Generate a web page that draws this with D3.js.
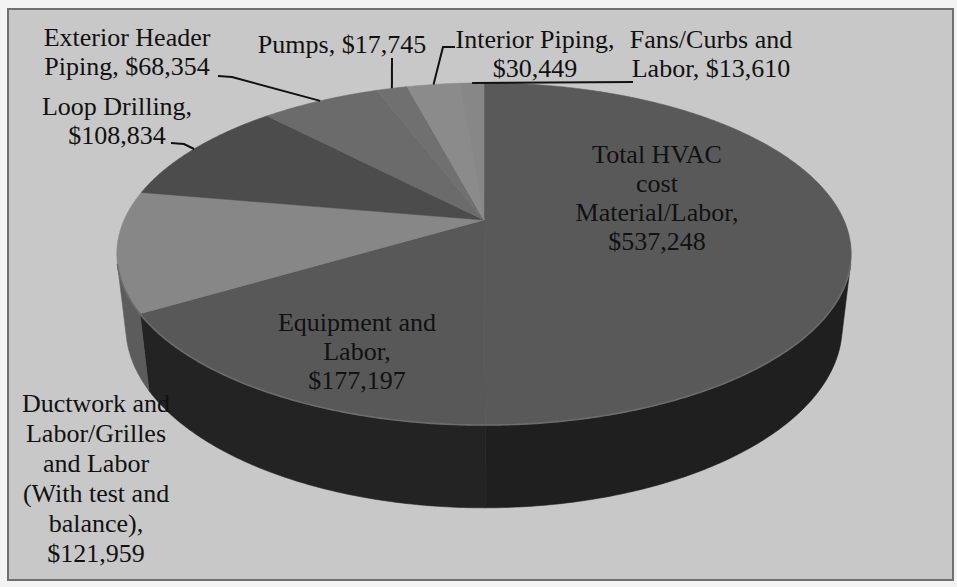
<!DOCTYPE html>
<html>
<head>
<meta charset="utf-8">
<script src="https://cdn.jsdelivr.net/npm/d3@7"></script>
<style>
  html, body { margin: 0; padding: 0; background: #f3f3f3; }
  svg { display: block; }
  text { font-family: "Liberation Serif", "Times New Roman", serif; font-size: 26px; fill: #111; }
</style>
</head>
<body>
<svg id="chart" width="957" height="587"></svg>
<script>
// HVAC cost breakdown, drawn as a tilted 3D pie
const categories = [
  "Total HVAC cost Material/Labor",
  "Equipment and Labor",
  "Ductwork and Labor/Grilles and Labor (With test and balance)",
  "Loop Drilling",
  "Exterior Header Piping",
  "Pumps",
  "Interior Piping",
  "Fans/Curbs and Labor"
];
const values = [537248, 177197, 121959, 108834, 68354, 17745, 30449, 13610];

// Label wording, one string per line; {v} is replaced by the formatted value
const labelText = [
  ["Total HVAC", "cost", "Material/Labor,", "{v}"],
  ["Equipment and", "Labor,", "{v}"],
  ["Ductwork and", "Labor/Grilles", "and Labor", "(With test and", "balance),", "{v}"],
  ["Loop Drilling,", "{v}"],
  ["Exterior Header", "Piping, {v}"],
  ["Pumps, {v}"],
  ["Interior Piping,", "{v}"],
  ["Fans/Curbs and", "Labor, {v}"]
];

// Greys for the top faces and the outer walls of each slice
const topColors  = ["#595959", "#585858", "#878787", "#4c4c4c", "#6b6b6b", "#707070", "#8b8b8b", "#878787"];
const wallColors = ["#1f1f1f", "#232323", "#5c5c5c", "#2e2e2e", "#3c3c3c", "#444444", "#555555", "#505050"];

// Label placement: text centre x, first baseline y, line spacing, leader elbow points
const labelLayout = [
  { x: 657, y: 163, lh: 29, leader: null },
  { x: 357, y: 331, lh: 29, leader: null },
  { x: 96,  y: 412, lh: 30, leader: null },
  { x: 117, y: 115, lh: 29, leader: [[171, 143], [184, 144]] },
  { x: 127, y: 46,  lh: 29, leader: [[218, 76], [232, 77]] },
  { x: 342, y: 53,  lh: 29, leader: [[392, 58]] },
  { x: 535, y: 48,  lh: 29, leader: [[455, 47], [443, 47]] },
  { x: 711, y: 48,  lh: 29, leader: [[633, 82]] }
];

const svg = d3.select("#chart");
const fmt = d3.format("$,");

// Frame
svg.append("rect")
  .attr("x", 8).attr("y", 9).attr("width", 945).attr("height", 571)
  .attr("fill", "#c8c8c8").attr("stroke", "#707070").attr("stroke-width", 2);

// Perspective camera for the disc (unit radius, lying in the horizontal plane)
const cam = { cx: 484, cy: 220, fx: 1605, fy: 1583, D: 4.46, sin: 0.463, cos: 0.886, depth: 0.233 };
function project(a, r, z) {
  const X = r * Math.sin(a), Y = -r * Math.cos(a);
  const up = -Y * cam.sin + z * cam.cos;
  const dist = cam.D - (Y * cam.cos + z * cam.sin);
  return [cam.cx + cam.fx * X / dist, cam.cy - cam.fy * up / dist];
}
function arcPoints(a0, a1, z) {
  const n = Math.max(2, Math.ceil(Math.abs(a1 - a0) / 0.01));
  return d3.range(n + 1).map(i => project(a0 + (a1 - a0) * i / n, 1, z));
}

const pie = d3.pie().sort(null).value(d => d).startAngle(0).endAngle(2 * Math.PI);
const arcs = pie(values);
const line = d3.line();

// Outer wall faces the camera where cos(a) < -1/(D*cos)
const visLimit = Math.acos(-1 / (cam.D * cam.cos));
const wallStart = visLimit, wallEnd = 2 * Math.PI - visLimit;

const walls = svg.append("g");
arcs.forEach((d, i) => {
  const a0 = Math.max(d.startAngle, wallStart), a1 = Math.min(d.endAngle, wallEnd);
  if (a1 <= a0) return;
  const pts = arcPoints(a0, a1, 0).concat(arcPoints(a1, a0, -cam.depth));
  walls.append("path")
    .attr("d", line(pts) + "Z")
    .attr("fill", wallColors[i])
    .attr("stroke", wallColors[i]).attr("stroke-width", 0.6);
});

// Top faces
const tops = svg.append("g");
arcs.forEach((d, i) => {
  const pts = [project(0, 0, 0)].concat(arcPoints(d.startAngle, d.endAngle, 0));
  tops.append("path")
    .attr("d", line(pts) + "Z")
    .attr("fill", topColors[i])
    .attr("stroke", topColors[i]).attr("stroke-width", 0.6);
});

// Light rim along the front edge of the top face
svg.append("path")
  .attr("d", line(arcPoints(wallStart, wallEnd, 0)))
  .attr("fill", "none").attr("stroke", "#6c6c6c").attr("stroke-width", 1.6);

// Leader lines from labels to slice rims
arcs.forEach((d, i) => {
  const L = labelLayout[i];
  if (!L.leader) return;
  const mid = (d.startAngle + d.endAngle) / 2;
  const pts = L.leader.concat([project(mid, 1, 0)]);
  svg.append("path")
    .attr("d", line(pts))
    .attr("fill", "none").attr("stroke", "#111").attr("stroke-width", 2);
});

// Labels
arcs.forEach((d, i) => {
  const L = labelLayout[i];
  const t = svg.append("text").attr("text-anchor", "middle");
  labelText[i].forEach((s, k) => {
    t.append("tspan")
      .attr("x", L.x).attr("y", L.y + k * L.lh)
      .text(s.replace("{v}", fmt(values[i])));
  });
});
</script>
</body>
</html>
